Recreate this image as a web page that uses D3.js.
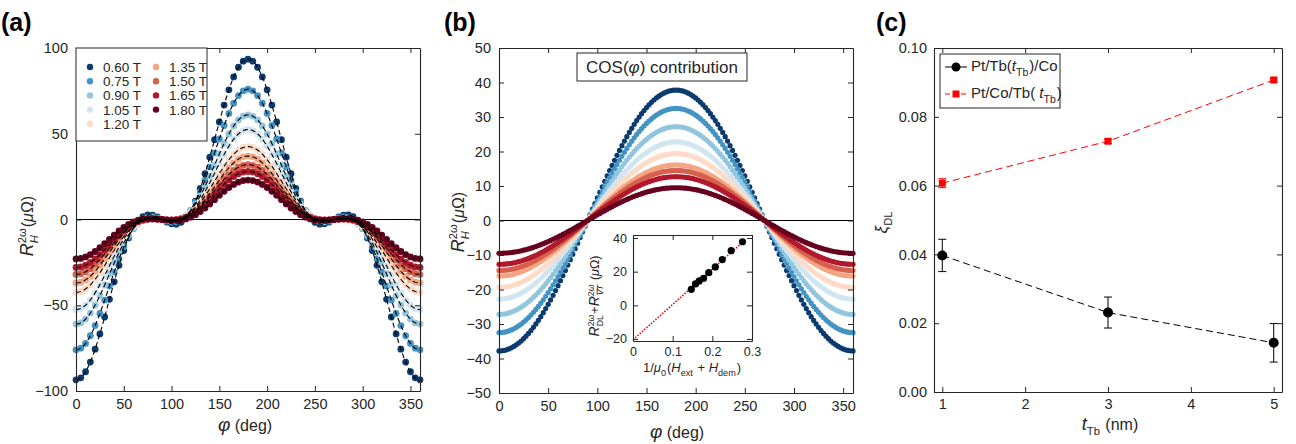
<!DOCTYPE html>
<html>
<head>
<meta charset="utf-8">
<script src="https://cdn.jsdelivr.net/npm/d3@7"></script>
<style>
body { margin: 0; background: #fff; }
svg text { font-family: "Liberation Sans", Arial, Helvetica, sans-serif; fill: #262626; white-space: pre; }
</style>
</head>
<body>
<svg id="chart" width="1296" height="444"></svg>
<script>
// field values and colours (legend of panel a)
const fields = ["0.60 T", "0.75 T", "0.90 T", "1.05 T", "1.20 T", "1.35 T", "1.50 T", "1.65 T", "1.80 T"];
const fieldColors = ["#0b3a6e", "#4393c3", "#92c5de", "#d1e5f0", "#fddbc7", "#f4a582", "#d6604d", "#b2182b", "#67001f"];
// cos(phi) (damping-like + thermal) amplitude, uOhm
const dlAmp = [37.8, 32.5, 27.2, 22.8, 19.4, 16.1, 14.5, 12.7, 9.5];
// field-like cos(2phi)cos(phi) amplitude, uOhm
const flAmp = [55.7, 43.5, 33.8, 29.7, 23.1, 20.9, 17.5, 15.3, 13.5];
// inset: 1/mu0(Hext+Hdem) for each field
const invField = [0.276, 0.2475, 0.225, 0.2075, 0.191, 0.178, 0.167, 0.1575, 0.147];
const fitLineX = [0, 0.28];
const fitLineY = [-20.5, 38.3];
// measurement angles
const phiMeasured = d3.range(0, 361, 5);
const phiCos = d3.range(0, 360.1, 2.5);
const phiFit = d3.range(0, 360.1, 1);
const phiTicks = [0, 50, 100, 150, 200, 250, 300, 350];
// panel c
const tTb = [1, 3, 5];
const xiTbCo = [0.0397, 0.0231, 0.0143];
const xiTbCoErr = [0.0047, 0.0045, 0.0056];
const xiCoTb = [0.0607, 0.0729, 0.0907];
const xiCoTbErr = [0.0013, 0.0006, 0.0006];

const svg = d3.select("#chart");
const axisColor = "#262626";
const rad = Math.PI / 180;

const pA = {left: 76, top: 48, width: 344, height: 343};
const pB = {left: 499, top: 48, width: 354, height: 345};
const pC = {left: 934, top: 48, width: 348, height: 344};
const pIn = {left: 633, top: 235, width: 119, height: 106};

function fullModel(i, phi) {
    const c = Math.cos(phi * rad);
    return -dlAmp[i] * c - flAmp[i] * Math.cos(2 * phi * rad) * c;
}
function cosModel(i, phi) {
    return -dlAmp[i] * Math.cos(phi * rad);
}

// MATLAB-like box with inward ticks
function drawFrame(g, x, y, xTicks, yTicks, xFmt, yFmt, fs, pad) {
    const [x0, x1] = x.range();
    const [y0, y1] = y.range();
    const bottom = g.append("g").attr("transform", `translate(0,${y0})`)
        .call(d3.axisBottom(x).tickValues(xTicks).tickFormat(xFmt).tickSize(-5).tickSizeOuter(0).tickPadding(pad));
    const top = g.append("g").attr("transform", `translate(0,${y1})`)
        .call(d3.axisTop(x).tickValues(xTicks).tickFormat("").tickSize(-5).tickSizeOuter(0));
    const left = g.append("g").attr("transform", `translate(${x0},0)`)
        .call(d3.axisLeft(y).tickValues(yTicks).tickFormat(yFmt).tickSize(-5).tickSizeOuter(0).tickPadding(pad));
    const right = g.append("g").attr("transform", `translate(${x1},0)`)
        .call(d3.axisRight(y).tickValues(yTicks).tickFormat("").tickSize(-5).tickSizeOuter(0));
    [bottom, top, left, right].forEach(a => {
        a.select(".domain").attr("stroke", axisColor).attr("stroke-width", 1.1);
        a.selectAll(".tick line").attr("stroke", axisColor);
        a.selectAll("text").attr("font-size", fs).attr("font-family", null).style("fill", axisColor);
    });
}

// text with stacked super/subscripts
function mathText(parent, pieces, fs) {
    const g = parent.append("g");
    let x = 0;
    pieces.forEach(p => {
        if (p.sup !== undefined || p.sub !== undefined) {
            let w = 0;
            if (p.sup) {
                const t = g.append("text").attr("x", x).attr("y", -fs * 0.42).attr("font-size", fs * 0.7).text(p.sup);
                if (p.supI) t.attr("font-style", "italic");
                w = Math.max(w, t.node().getComputedTextLength());
            }
            if (p.sub) {
                const t = g.append("text").attr("x", x).attr("y", fs * 0.3).attr("font-size", fs * 0.7).text(p.sub);
                if (p.subI) t.attr("font-style", "italic");
                w = Math.max(w, t.node().getComputedTextLength());
            }
            x += w + 1;
        } else {
            const t = g.append("text").attr("x", x).attr("font-size", p.fs || fs).text(p.t);
            if (p.i) t.attr("font-style", "italic");
            x += t.node().getComputedTextLength();
        }
    });
    return {g: g, w: x};
}
function placeLabel(pieces, fs, cx, cy, rotate) {
    const outer = svg.append("g").attr("transform", `translate(${cx},${cy})` + (rotate ? " rotate(-90)" : ""));
    const m = mathText(outer, pieces, fs);
    m.g.attr("transform", `translate(${-m.w / 2},0)`);
}
const rhLabel = [{t: "R", i: true, fs: 18}, {sup: "2ω", sub: "H", subI: true}, {t: "("}, {t: "μ", i: true}, {t: "Ω)"}];

// panel letters
[["(a)", 1], ["(b)", 444], ["(c)", 876]].forEach(d => {
    svg.append("text").attr("x", d[1]).attr("y", 31).attr("font-size", 25).attr("font-weight", "bold")
        .style("fill", "#000").text(d[0]);
});

// ---------------- panel a ----------------
const xA = d3.scaleLinear().domain([0, 360]).range([pA.left, pA.left + pA.width]);
const yA = d3.scaleLinear().domain([-100, 100]).range([pA.top + pA.height, pA.top]);
const gA = svg.append("g");
gA.append("line").attr("x1", xA(0)).attr("x2", xA(360)).attr("y1", yA(0)).attr("y2", yA(0))
    .attr("stroke", "#000").attr("stroke-width", 1.1);
fields.forEach((f, i) => {
    gA.append("g").selectAll("circle").data(phiMeasured).enter().append("circle")
        .attr("cx", d => xA(d)).attr("cy", d => yA(fullModel(i, d))).attr("r", 3.4)
        .attr("fill", fieldColors[i]);
});
const lineA = d3.line().x(d => xA(d[0])).y(d => yA(d[1]));
fields.forEach((f, i) => {
    gA.append("path").datum(phiFit.map(p => [p, fullModel(i, p)])).attr("d", lineA)
        .attr("fill", "none").attr("stroke", "#000").attr("stroke-width", 1.1).attr("stroke-dasharray", "5,3");
});
drawFrame(gA, xA, yA, phiTicks, [-100, -50, 0, 50, 100], d3.format("d"), d => d3.format("d")(d).replace("-", "−"), 14.5, 8);
// legend
const legA = gA.append("g");
legA.append("rect").attr("x", pA.left).attr("y", pA.top).attr("width", 131).attr("height", 93)
    .attr("fill", "#fff").attr("stroke", axisColor).attr("stroke-width", 1);
fields.forEach((f, i) => {
    const col = i < 5 ? 0 : 1;
    const row = i < 5 ? i : i - 5;
    const lx = pA.left + 14 + col * 66;
    const ly = pA.top + 19 + row * 14.2;
    legA.append("circle").attr("cx", lx).attr("cy", ly).attr("r", 3.2).attr("fill", fieldColors[i]);
    legA.append("text").attr("x", lx + 13).attr("y", ly + 5).attr("font-size", 13.5).text(f);
});
placeLabel(rhLabel, 16, 33, 226, true);
placeLabel([{t: "φ", i: true, fs: 19}, {t: " (deg)"}], 16, xA(180) - 3, 431, false);

// ---------------- panel b ----------------
const xB = d3.scaleLinear().domain([0, 360]).range([pB.left, pB.left + pB.width]);
const yB = d3.scaleLinear().domain([-50, 50]).range([pB.top + pB.height, pB.top]);
const gB = svg.append("g");
gB.append("line").attr("x1", xB(0)).attr("x2", xB(360)).attr("y1", yB(0)).attr("y2", yB(0))
    .attr("stroke", "#000").attr("stroke-width", 1.1);
fields.forEach((f, i) => {
    gB.append("g").selectAll("circle").data(phiCos).enter().append("circle")
        .attr("cx", d => xB(d)).attr("cy", d => yB(cosModel(i, d))).attr("r", 2.6)
        .attr("fill", fieldColors[i]);
});
drawFrame(gB, xB, yB, phiTicks, d3.range(-50, 51, 10), d3.format("d"), d => d3.format("d")(d).replace("-", "−"), 14.5, 8);
// title box
gB.append("rect").attr("x", 577).attr("y", 53).attr("width", 170).attr("height", 28)
    .attr("fill", "#fff").attr("stroke", axisColor).attr("stroke-width", 1);
placeLabel([{t: "COS("}, {t: "φ", i: true}, {t: ") contribution"}], 17, 662, 73, false);
placeLabel(rhLabel, 16, 464, 222, true);
placeLabel([{t: "φ", i: true, fs: 19}, {t: " (deg)"}], 16, xB(180) + 1, 438, false);

// inset
const xI = d3.scaleLinear().domain([0, 0.3]).range([pIn.left, pIn.left + pIn.width]);
const yI = d3.scaleLinear().domain([-21.2, 41.8]).range([pIn.top + pIn.height, pIn.top]);
const gI = svg.append("g");
gI.append("rect").attr("x", pIn.left).attr("y", pIn.top).attr("width", pIn.width).attr("height", pIn.height).attr("fill", "#fff");
gI.append("path").datum(fitLineX.map((x, k) => [x, fitLineY[k]]))
    .attr("d", d3.line().x(d => xI(d[0])).y(d => yI(d[1])))
    .attr("fill", "none").attr("stroke", "#ff0000").attr("stroke-width", 1.6).attr("stroke-dasharray", "1.5,1.5");
gI.selectAll("circle").data(invField).enter().append("circle")
    .attr("cx", d => xI(d)).attr("cy", (d, i) => yI(dlAmp[i])).attr("r", 3.6).attr("fill", "#000");
drawFrame(gI, xI, yI, [0, 0.1, 0.2, 0.3], [-20, 0, 20, 40], d => d === 0 ? "0" : d3.format(".1f")(d),
    d => d3.format("d")(d).replace("-", "−"), 12.5, 6);
placeLabel([{t: "R", i: true, fs: 14}, {sup: "2ω", sub: "DL"}, {t: "+"}, {t: "R", i: true, fs: 14}, {sup: "2ω", sub: "∇T", subI: true},
    {t: " ("}, {t: "μ", i: true}, {t: "Ω)"}], 12.5, 599, 296, true);
placeLabel([{t: "1/"}, {t: "μ", i: true}, {sub: "0"}, {t: "("}, {t: "H", i: true}, {sub: "ext"}, {t: " + "}, {t: "H", i: true},
    {sub: "dem"}, {t: ")"}], 13, 692, 372, false);

// ---------------- panel c ----------------
const xC = d3.scaleLinear().domain([0.9, 5.1]).range([pC.left, pC.left + pC.width]);
const yC = d3.scaleLinear().domain([0, 0.1]).range([pC.top + pC.height, pC.top]);
const gC = svg.append("g");
const lineC = d3.line().x(d => xC(d[0])).y(d => yC(d[1]));
gC.append("path").datum(tTb.map((t, k) => [t, xiCoTb[k]])).attr("d", lineC)
    .attr("fill", "none").attr("stroke", "#ff0000").attr("stroke-width", 1).attr("stroke-dasharray", "7,4");
gC.append("path").datum(tTb.map((t, k) => [t, xiTbCo[k]])).attr("d", lineC)
    .attr("fill", "none").attr("stroke", "#000").attr("stroke-width", 1).attr("stroke-dasharray", "7,4");
function errorBars(vals, errs, color) {
    const eb = gC.append("g");
    tTb.forEach((t, k) => {
        const cx = xC(t);
        eb.append("line").attr("x1", cx).attr("x2", cx).attr("y1", yC(vals[k] - errs[k])).attr("y2", yC(vals[k] + errs[k])).attr("stroke", color);
        [vals[k] - errs[k], vals[k] + errs[k]].forEach(v => {
            eb.append("line").attr("x1", cx - 4).attr("x2", cx + 4).attr("y1", yC(v)).attr("y2", yC(v)).attr("stroke", color);
        });
    });
}
errorBars(xiCoTb, xiCoTbErr, "#ff0000");
errorBars(xiTbCo, xiTbCoErr, "#000");
gC.selectAll(".sq").data(tTb).enter().append("rect").attr("class", "sq")
    .attr("x", d => xC(d) - 3.5).attr("y", (d, k) => yC(xiCoTb[k]) - 3.5).attr("width", 7).attr("height", 7).attr("fill", "#ff0000");
gC.selectAll(".dot").data(tTb).enter().append("circle").attr("class", "dot")
    .attr("cx", d => xC(d)).attr("cy", (d, k) => yC(xiTbCo[k])).attr("r", 5).attr("fill", "#000");
drawFrame(gC, xC, yC, [1, 2, 3, 4, 5], [0, 0.02, 0.04, 0.06, 0.08, 0.1], d3.format("d"), d3.format(".2f"), 14.5, 7);
// legend
const legC = gC.append("g");
legC.append("rect").attr("x", 940).attr("y", 54).attr("width", 120).attr("height", 54)
    .attr("fill", "#fff").attr("stroke", axisColor).attr("stroke-width", 1);
legC.append("line").attr("x1", 945).attr("x2", 967).attr("y1", 67).attr("y2", 67).attr("stroke", "#000");
legC.append("circle").attr("cx", 956).attr("cy", 67).attr("r", 4.5).attr("fill", "#000");
legC.append("line").attr("x1", 945).attr("x2", 967).attr("y1", 94).attr("y2", 94).attr("stroke", "#ff0000").attr("stroke-dasharray", "5,3");
legC.append("rect").attr("x", 952.5).attr("y", 90.5).attr("width", 7).attr("height", 7).attr("fill", "#ff0000");
const l1 = mathText(legC, [{t: "Pt/Tb("}, {t: "t", i: true}, {sub: "Tb"}, {t: ")/Co"}], 15);
l1.g.attr("transform", "translate(971,71)");
const l2 = mathText(legC, [{t: "Pt/Co/Tb( "}, {t: "t", i: true}, {sub: "Tb"}, {t: ")"}], 15);
l2.g.attr("transform", "translate(971,98)");
placeLabel([{t: "ξ", i: true, fs: 17}, {sub: "DL"}], 16, 887, 222, true);
placeLabel([{t: "t", i: true, fs: 18}, {sub: "Tb"}, {t: " (nm)"}], 16, 1110, 430, false);
</script>
</body>
</html>
